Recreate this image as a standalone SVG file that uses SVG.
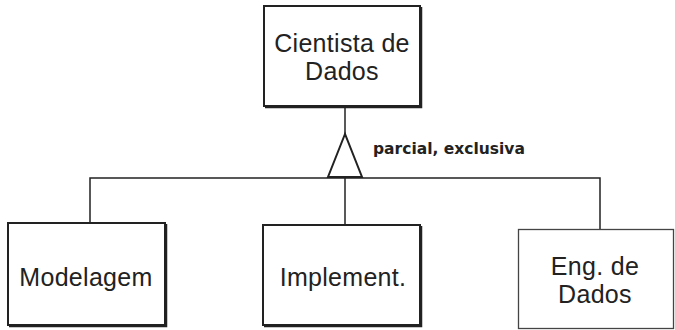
<svg xmlns="http://www.w3.org/2000/svg" width="675" height="330" viewBox="0 0 675 330">
<style>
.box{fill:#fff;stroke:#222;stroke-width:2}
.sh{fill:none;stroke:#222;stroke-width:1.5}
.thin{fill:#fff;stroke:#444;stroke-width:1.3}
.lbl{font-family:"Liberation Sans",Arial,sans-serif;font-size:25px;letter-spacing:0.3px;fill:#222;text-anchor:middle}
.note{font-family:"DejaVu Sans",sans-serif;font-weight:bold;font-size:15.5px;fill:#222}
.ln{fill:none;stroke:#222;stroke-width:1.5}
</style>
<rect width="675" height="330" fill="#fff"/>
<g id="connectors">
<line class="ln" x1="345" y1="107" x2="345" y2="134"/>
<polygon points="345,134 328,177 362,177" fill="#fff" stroke="#222" stroke-width="2" stroke-linejoin="miter"/>
<polyline class="ln" points="90,223 90,178 600,178 600,229"/>
<line class="ln" x1="345" y1="178" x2="345" y2="225"/>
<text class="note" x="373" y="154">parcial, exclusiva</text>
</g>
<g id="cientista">
<rect class="box" x="264" y="6" width="156" height="100"/>
<polyline class="sh" points="421.5,7 421.5,107.5 265,107.5"/>
<text class="lbl" x="342" y="52">Cientista de</text>
<text class="lbl" x="342" y="80">Dados</text>
</g>
<g id="modelagem">
<rect class="box" x="8" y="223" width="157" height="102"/>
<polyline class="sh" points="166.5,224 166.5,326.5 9,326.5"/>
<text class="lbl" x="86" y="286">Modelagem</text>
</g>
<g id="implement">
<rect class="box" x="263" y="225" width="157" height="100"/>
<polyline class="sh" points="421.5,226 421.5,326.5 264,326.5"/>
<text class="lbl" x="343" y="286">Implement.</text>
</g>
<g id="engdados">
<rect class="thin" x="518.5" y="229.5" width="155" height="99"/>
<text class="lbl" x="595" y="275">Eng. de</text>
<text class="lbl" x="595" y="303">Dados</text>
</g>
</svg>
